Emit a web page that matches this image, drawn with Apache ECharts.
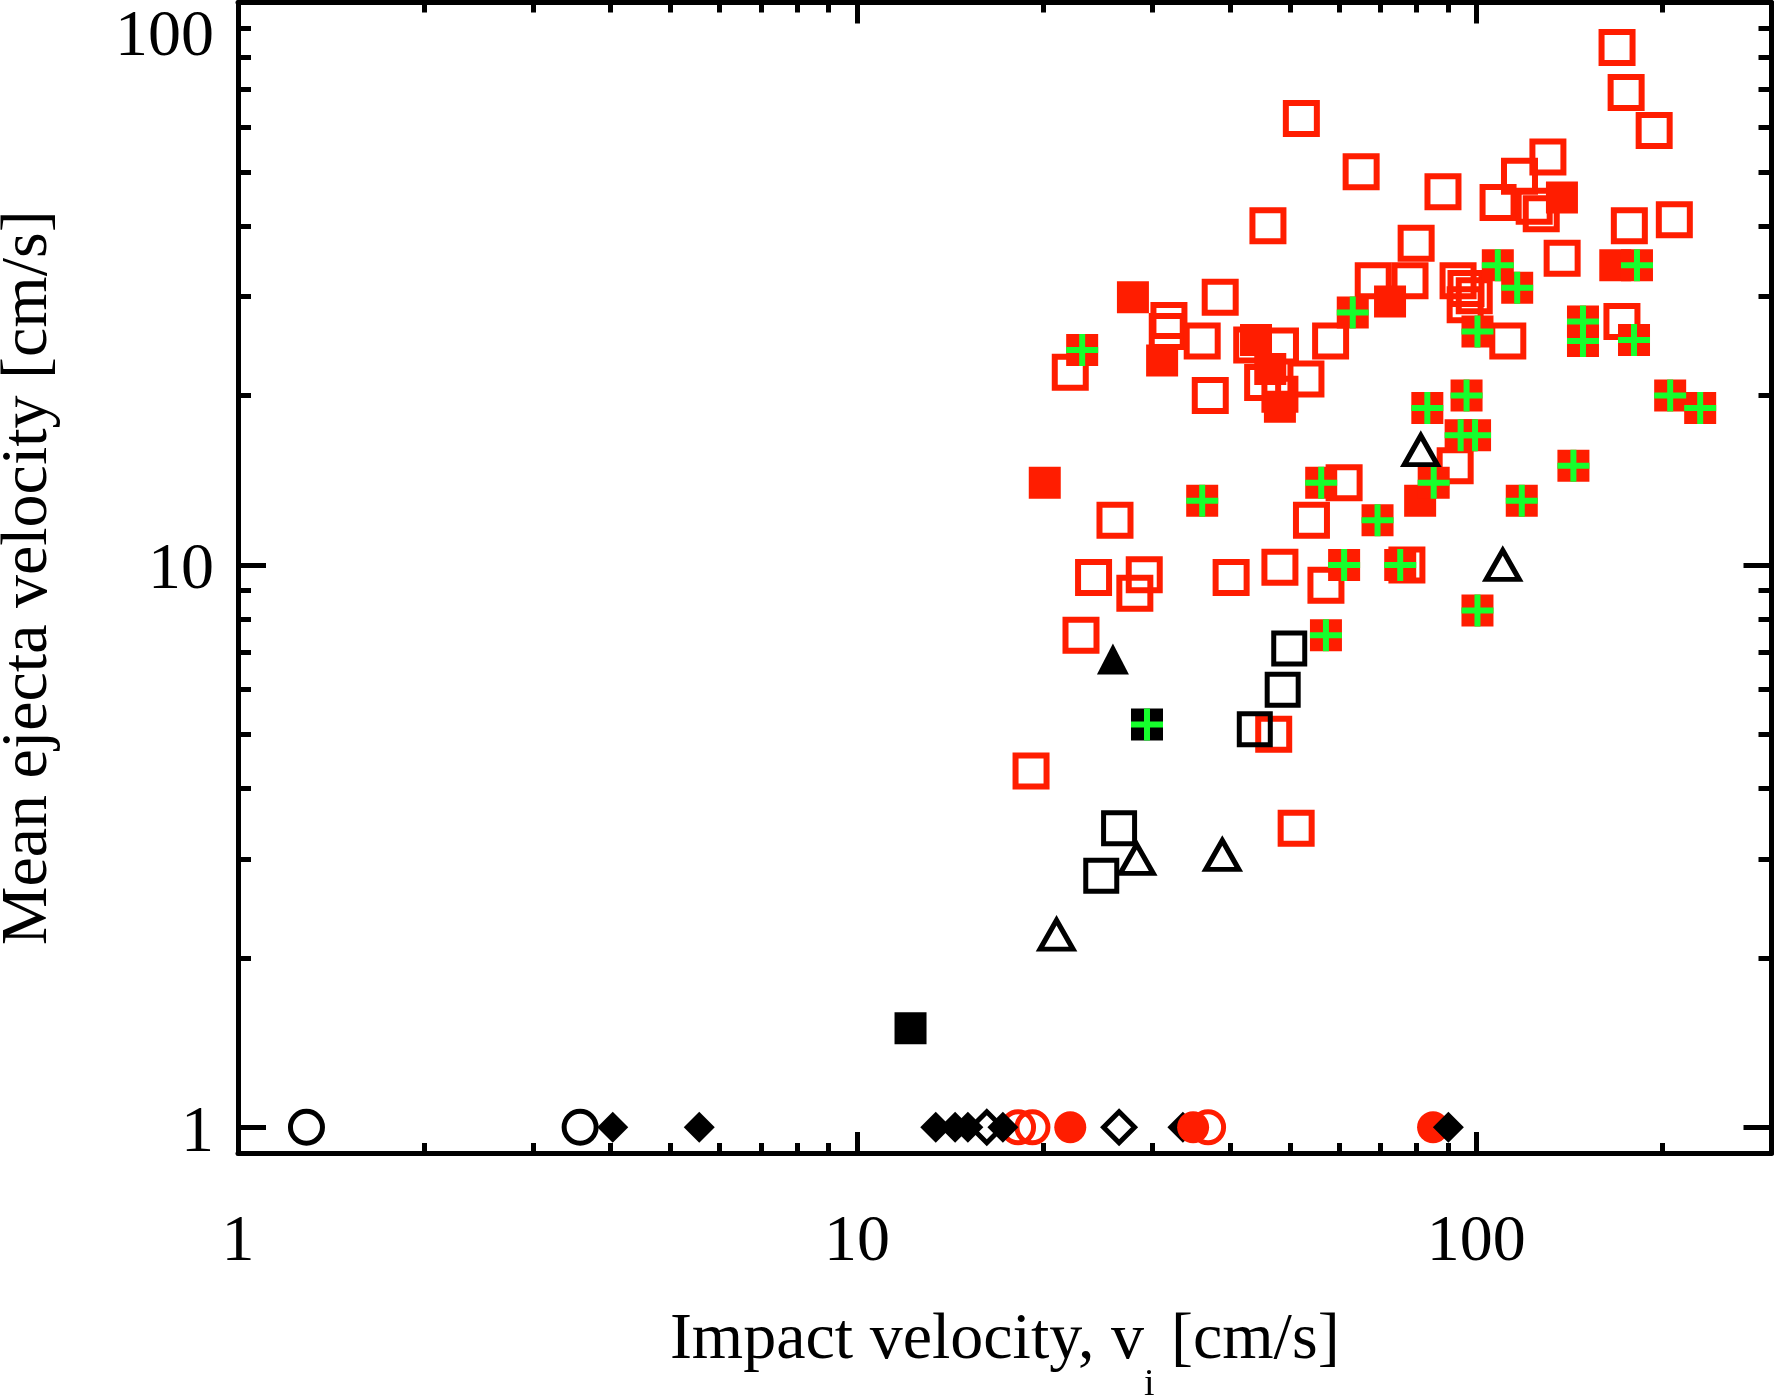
<!DOCTYPE html>
<html>
<head>
<meta charset="utf-8">
<script src="https://cdn.jsdelivr.net/npm/echarts@6/dist/echarts.min.js"></script>
<style>
html,body{margin:0;padding:0;background:#ffffff;}
#chart{width:1774px;height:1400px;}
</style>
</head>
<body>
<div id="chart"></div>
<script>
// ---------- tick labels / tick positions ----------
const xMajorTicks = [1, 10, 100];
const xMinorTicks = [2, 3, 4, 5, 6, 7, 8, 9, 20, 30, 40, 50, 60, 70, 80, 90, 200];
const yMajorTicks = [1, 10, 100];
const yMinorTicks = [2, 3, 4, 5, 6, 7, 8, 9, 20, 30, 40, 50, 60, 70, 80, 90];

// ---------- data: [impact velocity, mean ejecta velocity] ----------
const redOpenSquares = [
  [52.2, 62.2], [65.2, 50.0], [46.1, 40.1], [31.9, 27.2], [31.7, 26.0], [38.6, 29.9],
  [68.2, 32.0], [80.0, 37.3], [168.9, 83.2], [174.7, 69.2], [193.9, 59.2], [130.6, 53.1],
  [117.5, 49.1], [88.4, 46.1], [108.5, 44.1], [124.1, 43.4], [127.4, 42.1], [176.8, 40.1],
  [209.0, 41.1], [137.7, 35.1], [78.2, 32.0], [93.5, 32.0], [96.3, 31.0], [99.3, 30.1],
  [96.0, 29.0], [172.0, 27.1], [112.5, 25.0], [22.1, 22.0], [36.1, 25.0], [37.2, 20.0],
  [43.4, 24.6], [48.3, 24.5], [45.2, 21.1], [48.2, 20.1], [53.1, 21.4], [58.2, 25.0],
  [61.2, 14.0], [26.1, 12.0], [54.2, 12.0], [24.1, 9.5], [29.1, 9.6], [28.1, 8.9],
  [40.2, 9.5], [48.2, 9.9], [57.2, 9.2], [77.3, 10.0], [92.5, 15.0], [23.0, 7.5],
  [47.1, 5.0], [19.1, 4.3], [51.2, 3.4]
];
const redFilledSquares = [
  [27.9, 29.9], [31.1, 23.1], [44.1, 25.1], [46.5, 22.3], [48.2, 19.1], [72.6, 29.4],
  [137.6, 45.0], [167.8, 34.1], [20.1, 14.0], [81.2, 13.0]
];
const redCrossSquares = [
  [23.1, 24.1], [63.2, 28.1], [108.4, 34.1], [181.9, 34.1], [116.5, 31.1], [148.8, 27.1],
  [148.8, 25.0], [100.5, 26.0], [179.9, 25.1], [205.8, 20.0], [230.1, 19.0], [83.4, 19.0],
  [96.5, 20.0], [94.4, 17.0], [99.6, 17.0], [85.4, 14.0], [143.6, 15.0], [118.5, 13.0],
  [69.3, 12.0], [75.4, 10.0], [100.5, 8.3], [36.1, 13.0], [56.2, 14.0], [61.2, 10.0],
  [57.2, 7.5]
];
const blackOpenSquares = [[49.9, 7.1], [48.7, 6.0], [43.9, 5.1], [26.5, 3.4], [24.8, 2.8]];
const blackFilledSquares = [[12.2, 1.5]];
const blackCrossSquares = [[29.4, 5.2]];
const blackOpenTriangles = [[81.4, 16.0], [110.4, 10.0], [28.3, 3.0], [38.9, 3.05], [21.0, 2.2]];
const blackFilledTriangles = [[25.9, 6.8]];
const blackOpenCircles = [[1.29, 1], [3.57, 1]];
const redFilledCirclesBelow = [[22.1, 1], [85.2, 1]];
const blackFilledDiamonds = [[4.03, 1], [5.56, 1], [13.4, 1], [14.4, 1], [15.1, 1], [17.2, 1], [33.6, 1], [90.2, 1]];
const blackOpenDiamonds = [[16.2, 1], [26.5, 1]];
const redFilledCirclesAbove = [[34.9, 1]];
const redOpenCircles = [[18.2, 1], [19.2, 1], [36.9, 1]];

// ---------- styles ----------
const FONT = 'Liberation Serif';
const RED = '#ff1d00';
const GREEN = '#16ff2c';
const BLACK = '#000000';
const CLEAR = 'rgba(0,0,0,0)';
const PLUS = 'path://M13,0H19V13H32V19H19V32H13V19H0V13H13Z';

function sc(data, symbol, size, fill, border, bw) {
  return {
    type: 'scatter', data: data, xAxisIndex: 0, yAxisIndex: 0,
    symbol: symbol, symbolSize: size, silent: true,
    itemStyle: { color: fill, borderColor: border || fill, borderWidth: bw || 0, opacity: 1 },
    emphasis: { disabled: true }
  };
}

function xAxisDef(pos, ticks, len, showLine, withLabel) {
  const a = {
    type: 'log', logBase: 10, min: 1, max: 300, position: pos, gridIndex: 0,
    axisLine: { show: showLine, onZero: false, lineStyle: { color: BLACK, width: 5 } },
    axisTick: { show: true, inside: true, length: len, customValues: ticks, lineStyle: { color: BLACK, width: 5 } },
    axisLabel: { show: false },
    splitLine: { show: false }, minorTick: { show: false }, minorSplitLine: { show: false }
  };
  if (withLabel) {
    a.axisLabel = {
      show: true, customValues: xMajorTicks, margin: 57, color: BLACK,
      fontFamily: FONT, fontSize: 66,
      formatter: function (v) { return String(Math.round(v)); }
    };
    a.name = '{a|Impact velocity, v}{b|i}{a| [cm/s]}';
    a.nameLocation = 'middle';
    a.nameGap = 125;
    a.nameTextStyle = {
      color: BLACK, fontFamily: FONT, fontSize: 66,
      rich: {
        a: { color: BLACK, fontFamily: FONT, fontSize: 66 },
        b: { color: BLACK, fontFamily: FONT, fontSize: 38, padding: [88, 0, 0, 0] }
      }
    };
  }
  return a;
}

function yAxisDef(pos, ticks, len, showLine, withLabel) {
  const a = {
    type: 'log', logBase: 10, min: 0.9, max: 100, position: pos, gridIndex: 0,
    axisLine: { show: showLine, onZero: false, lineStyle: { color: BLACK, width: 5 } },
    axisTick: { show: true, inside: true, length: len, customValues: ticks, lineStyle: { color: BLACK, width: 5 } },
    axisLabel: { show: false },
    splitLine: { show: false }, minorTick: { show: false }, minorSplitLine: { show: false }
  };
  if (withLabel) {
    a.axisLabel = {
      show: true, customValues: yMajorTicks, margin: 24, color: BLACK,
      fontFamily: FONT, fontSize: 66,
      formatter: function (v) {
        return Math.abs(v - 100) < 1e-6 ? '{t|100}' : '{n|' + Math.round(v) + '}';
      },
      rich: {
        t: { color: BLACK, fontFamily: FONT, fontSize: 66, padding: [70, 0, 0, 0] },
        n: { color: BLACK, fontFamily: FONT, fontSize: 66, padding: [12, 0, 0, 0] }
      }
    };
    a.name = 'Mean ejecta velocity [cm/s]';
    a.nameLocation = 'middle';
    a.nameGap = 176;
    a.nameTextStyle = { color: BLACK, fontFamily: FONT, fontSize: 66 };
  }
  return a;
}

const chart = echarts.init(document.getElementById('chart'), null, { renderer: 'canvas' });
chart.setOption({
  animation: false,
  backgroundColor: '#ffffff',
  grid: { left: 238, right: 2.5, top: 2.5, bottom: 247, containLabel: false, outerBoundsMode: 'none' },
  xAxis: [
    xAxisDef('bottom', xMajorTicks, 21, true, true),
    xAxisDef('top', xMajorTicks, 21, true, false),
    xAxisDef('bottom', xMinorTicks, 10, false, false),
    xAxisDef('top', xMinorTicks, 10, false, false)
  ],
  yAxis: [
    yAxisDef('left', yMajorTicks, 28, true, true),
    yAxisDef('right', yMajorTicks, 28, true, false),
    yAxisDef('left', yMinorTicks, 13, false, false),
    yAxisDef('right', yMinorTicks, 13, false, false)
  ],
  series: [
    sc(redOpenSquares, 'rect', 31, CLEAR, RED, 6),
    sc(redFilledSquares, 'rect', 32, RED),
    sc(redCrossSquares, 'rect', 32, RED),
    sc(redCrossSquares, PLUS, 32, GREEN),
    sc(blackOpenSquares, 'rect', 31, CLEAR, BLACK, 5),
    sc(blackFilledSquares, 'rect', 32, BLACK),
    sc(blackCrossSquares, 'rect', 32, BLACK),
    sc(blackCrossSquares, PLUS, 32, GREEN),
    sc(blackOpenTriangles, 'triangle', [33, 29], CLEAR, BLACK, 5),
    sc(blackFilledTriangles, 'triangle', [32, 31], BLACK),
    sc(blackOpenCircles, 'circle', 32, CLEAR, BLACK, 5),
    sc(redFilledCirclesBelow, 'circle', 32, RED),
    sc(redOpenCircles, 'circle', 31, CLEAR, RED, 5),
    sc(blackOpenDiamonds, 'diamond', 31, CLEAR, BLACK, 5),
    sc(blackFilledDiamonds, 'diamond', 31, BLACK),
    sc(redFilledCirclesAbove, 'circle', 32, RED)
  ]
});
</script>
</body>
</html>
